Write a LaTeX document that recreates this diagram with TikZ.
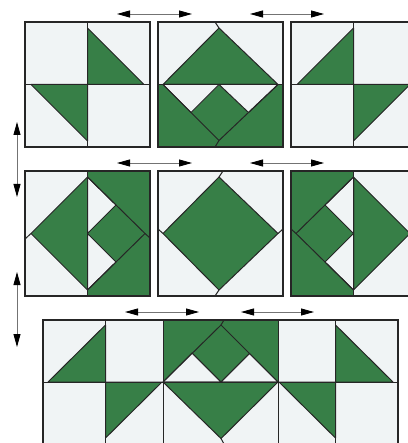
\documentclass[tikz,border=0pt]{standalone}
\usepackage{xcolor}
\usepackage{tikz}
\usetikzlibrary{arrows.meta}
\definecolor{quiltgreen}{RGB}{55,127,71}
\definecolor{quiltpaper}{RGB}{240,244,245}
\definecolor{quiltseam}{RGB}{38,38,38}

\begin{document}
\begin{tikzpicture}[
  x=1pt, y=-1pt,
  outline/.style={draw=quiltseam, line width=1.3pt},
  seam/.style={draw=quiltseam, line width=1pt, line cap=round},
  patch/.style={fill=quiltgreen, draw=quiltseam, line width=1pt, line join=round},
  gap/.style={fill=quiltpaper, draw=quiltseam, line width=1pt, line join=round},
  swap/.style={
    {Triangle[length=13pt,width=7pt,color=black]}-{Triangle[length=13pt,width=7pt,color=black]},
    draw=black!55, line width=0.8pt
  },
]
\useasboundingbox (0,0) rectangle (407,443);

%% Row 1
\begin{scope}[shift={(25,22)}]
  \fill[quiltpaper] (0,0) rectangle (125,125);
  \path[patch] (62.5,6) -- (119,62.5) -- (62.5,62.5) -- cycle;
  \path[patch] (6,62.5) -- (62.5,62.5) -- (62.5,119) -- cycle;
  \draw[seam] (62.5,0) -- (62.5,125) (0,62.5) -- (125,62.5);
  \draw[outline] (0,0) rectangle (125,125);
\end{scope}
\begin{scope}[shift={(158,22)}]
  \fill[quiltpaper] (0,0) rectangle (125,62.5);
  \fill[quiltgreen] (0,62.5) rectangle (125,125);
  \path[patch] (5,62.5) -- (61,6) -- (120,62.5) -- cycle;
  \path[gap] (5,62.5) -- (61,62.5) -- (33,90.5) -- cycle;
  \path[gap] (61,62.5) -- (120,62.5) -- (90.5,90.5) -- cycle;
  \draw[seam] (61,6) -- (57,0);
  \draw[seam] (5,62.5) -- (61,118.5);
  \draw[seam] (120,62.5) -- (61,118.5) -- (57,125);
  \draw[seam] (0,62.5) -- (125,62.5);
  \draw[outline] (0,0) rectangle (125,125);
\end{scope}
\begin{scope}[shift={(291,22)}]
  \fill[quiltpaper] (0,0) rectangle (125,125);
  \path[patch] (62.5,6) -- (6,62.5) -- (62.5,62.5) -- cycle;
  \path[patch] (62.5,62.5) -- (119,62.5) -- (62.5,119) -- cycle;
  \draw[seam] (62.5,0) -- (62.5,125) (0,62.5) -- (125,62.5);
  \draw[outline] (0,0) rectangle (125,125);
\end{scope}

%% Row 2
\begin{scope}[shift={(25,171)}]
  \fill[quiltpaper] (0,0) rectangle (62.5,125);
  \fill[quiltgreen] (62.5,0) rectangle (125,125);
  \path[patch] (6,62.5) -- (62.5,6) -- (62.5,119) -- cycle;
  \path[gap] (62.5,6) -- (62.5,62.5) -- (91,34) -- cycle;
  \path[gap] (62.5,62.5) -- (62.5,119) -- (91,91) -- cycle;
  \draw[seam] (6,62.5) -- (0,68);
  \draw[seam] (62.5,6) -- (120,62.5) -- (125,67);
  \draw[seam] (62.5,119) -- (120,62.5);
  \draw[seam] (62.5,0) -- (62.5,125);
  \draw[outline] (0,0) rectangle (125,125);
\end{scope}
\begin{scope}[shift={(158,171)}]
  \fill[quiltpaper] (0,0) rectangle (125,125);
  \path[patch] (5,62.5) -- (61,6) -- (120,62.5) -- (61,119) -- cycle;
  \draw[seam] (61,6) -- (65,0) (5,62.5) -- (0,58)
              (120,62.5) -- (125,58) (61,119) -- (57,125);
  \draw[outline] (0,0) rectangle (125,125);
\end{scope}
\begin{scope}[shift={(291,171)}]
  \fill[quiltgreen] (0,0) rectangle (62.5,125);
  \fill[quiltpaper] (62.5,0) rectangle (125,125);
  \path[patch] (62.5,6) -- (119,62.5) -- (62.5,119) -- cycle;
  \path[gap] (62.5,6) -- (62.5,62.5) -- (34,34) -- cycle;
  \path[gap] (62.5,62.5) -- (62.5,119) -- (34,91) -- cycle;
  \draw[seam] (62.5,6) -- (5,62.5) -- (62.5,119);
  \draw[seam] (5,62.5) -- (0,58);
  \draw[seam] (62.5,0) -- (62.5,125);
  \draw[outline] (0,0) rectangle (125,125);
\end{scope}

%% Row 3
\begin{scope}[shift={(43,320)}]
  \fill[quiltpaper] (0,0) rectangle (355,124);
  \fill[quiltgreen] (120,0) rectangle (235,62);
  \path[patch] (5,62) -- (62.5,5) -- (62.5,62) -- cycle;
  \path[patch] (292.5,5) -- (350,62) -- (292.5,62) -- cycle;
  \path[gap] (120,62) -- (149,33) -- (178,62) -- cycle;
  \path[gap] (178,62) -- (206.5,33.5) -- (235,62) -- cycle;
  \draw[seam] (120,62) -- (178,5) -- (181,0);
  \draw[seam] (235,62) -- (178,5);
  \draw[seam] (149,33) -- (178,62) -- (206.5,33.5);
  \path[patch] (62.5,62) -- (119,62) -- (62.5,118) -- cycle;
  \path[patch] (120,62) -- (235,62) -- (178,118.5) -- cycle;
  \path[patch] (236,62) -- (292.5,62) -- (292.5,118) -- cycle;
  \draw[seam] (178,118.5) -- (181,124);
  \draw[seam] (0,62) -- (355,62);
  \foreach \xc in {62.5,120,235,292.5}
    \draw[seam] (\xc,0) -- (\xc,124);
  \draw[outline] (0,0) rectangle (355,124);
\end{scope}

%% Swap arrows
\coordinate (r1a) at (117,14);  \coordinate (r1b) at (192,14);
\coordinate (r1c) at (250,14);  \coordinate (r1d) at (324,14);
\coordinate (r2a) at (117,163); \coordinate (r2b) at (192,163);
\coordinate (r2c) at (250,163); \coordinate (r2d) at (324,163);
\coordinate (r3a) at (125,312); \coordinate (r3b) at (199,312);
\coordinate (r3c) at (241,312); \coordinate (r3d) at (314,312);
\coordinate (v1a) at (17,122);  \coordinate (v1b) at (17,197);
\coordinate (v2a) at (17,272);  \coordinate (v2b) at (17,347);
\foreach \p/\q in {r1a/r1b, r1c/r1d, r2a/r2b, r2c/r2d, r3a/r3b, r3c/r3d, v1a/v1b, v2a/v2b}
  \draw[swap] (\p) -- (\q);
\end{tikzpicture}
\end{document}
